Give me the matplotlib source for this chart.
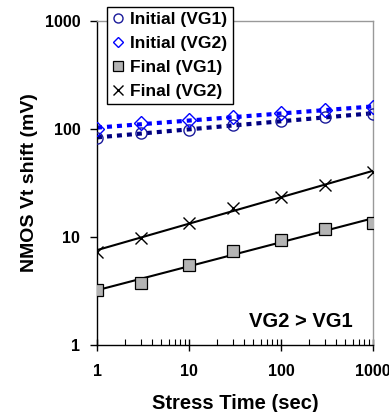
import numpy as np
import matplotlib.pyplot as plt

plt.rcParams['font.family'] = ['Liberation Sans', 'DejaVu Sans']
plt.rcParams['font.weight'] = 'bold'

# stress time (sec)
stress_time = [1, 3, 10, 30, 100, 300, 1000]

# NMOS Vt shift (mV)
initial_vg1 = [82.6, 92, 98, 109, 119, 129, 138]
initial_vg2 = [100, 113, 121, 129, 141, 150, 159]
final_vg1 = [3.2, 3.75, 5.5, 7.4, 9.4, 11.9, 13.5]
final_vg2 = [7.3, 9.8, 13.5, 18.6, 23.5, 30, 40]

labels = ['Initial (VG1)', 'Initial (VG2)', 'Final (VG1)', 'Final (VG2)']


def power_fit(x, y):
    # power-law trendline, like the spreadsheet one
    k, b = np.polyfit(np.log10(x), np.log10(y), 1)
    xs = np.logspace(0, 3, 50)
    return xs, 10 ** (b + k * np.log10(xs))


fig = plt.figure(figsize=(3.89, 4.12), dpi=100)
ax = fig.add_axes([0.2494, 0.1626, 0.7096, 0.7864])

x = np.array(stress_time)

# trendlines
xs, ys = power_fit(x, initial_vg1)
ax.plot(xs, ys, color='#000080', lw=3, ls=(0, (1.2, 1.2)), zorder=2)
xs, ys = power_fit(x, initial_vg2)
ax.plot(xs, ys, color='#0000ff', lw=3, ls=(0, (1.2, 1.2)), zorder=2)
xs, ys = power_fit(x, final_vg1)
ax.plot(xs, ys, color='black', lw=1.5, zorder=2)
xs, ys = power_fit(x, final_vg2)
ax.plot(xs, ys, color='black', lw=1.5, zorder=2)

# data points
ax.plot(x, initial_vg1, 'o', ms=8, mfc='none', mec='#1a1a9a', mew=1, zorder=3)
ax.plot(x, initial_vg2, 'D', ms=7, mfc='none', mec='#0000ff', mew=1, zorder=3)
ax.plot(x, final_vg1, 's', ms=8.5, mfc='#b4b4b4', mec='black', mew=0.9, zorder=3)
ax.plot(x, final_vg2, 'x', ms=9, color='black', mew=1, zorder=3)

# legend handles, drawn a bit smaller than the data markers
h1, = ax.plot([], [], 'o', ms=6.5, mfc='none', mec='#1a1a9a', mew=1)
h2, = ax.plot([], [], 'D', ms=5.5, mfc='none', mec='#0000ff', mew=1)
h3, = ax.plot([], [], 's', ms=6.5, mfc='#b4b4b4', mec='black', mew=0.9)
h4, = ax.plot([], [], 'x', ms=7, color='black', mew=1)

ax.set_xscale('log')
ax.set_yscale('log')
ax.set_xlim(1, 1000)
ax.set_ylim(1, 1000)

ax.set_xticks([1, 10, 100, 1000])
ax.set_xticklabels(['1', '10', '100', '1000'])
ax.set_yticks([1, 10, 100, 1000])
ax.set_yticklabels(['1', '10', '100', '1000'])
ax.yaxis.set_minor_locator(plt.NullLocator())
ax.tick_params(axis='x', which='major', direction='inout', length=9, width=1,
               labelsize=11.5, pad=9)
ax.tick_params(axis='x', which='minor', direction='in', length=4, width=0.8)
ax.tick_params(axis='y', which='major', direction='out', length=5, width=1,
               labelsize=11.5, pad=7)

for side in ['top', 'right']:
    ax.spines[side].set_color('#999999')
    ax.spines[side].set_linewidth(1)
for side in ['left', 'bottom']:
    ax.spines[side].set_color('black')
    ax.spines[side].set_linewidth(1)

ax.set_xlabel('Stress Time (sec)', fontsize=14.5, fontweight='bold', labelpad=11)
ax.set_ylabel('NMOS Vt shift (mV)', fontsize=14, fontweight='bold', labelpad=5)

ax.text(0.927, 0.072, 'VG2 > VG1', transform=ax.transAxes, ha='right', va='center',
        fontsize=14.5, fontweight='bold')

leg = ax.legend([h1, h2, h3, h4], labels, loc='upper left',
                bbox_to_anchor=(0.036, 1.043), frameon=True, fancybox=False,
                edgecolor='black', framealpha=1, borderpad=0.3,
                borderaxespad=0, handlelength=0.7, handletextpad=0.35,
                labelspacing=0.5, prop={'size': 12.5, 'weight': 'bold'})
leg.get_frame().set_linewidth(1)
leg.set_zorder(5)

fig.savefig('out.png', dpi=100)
